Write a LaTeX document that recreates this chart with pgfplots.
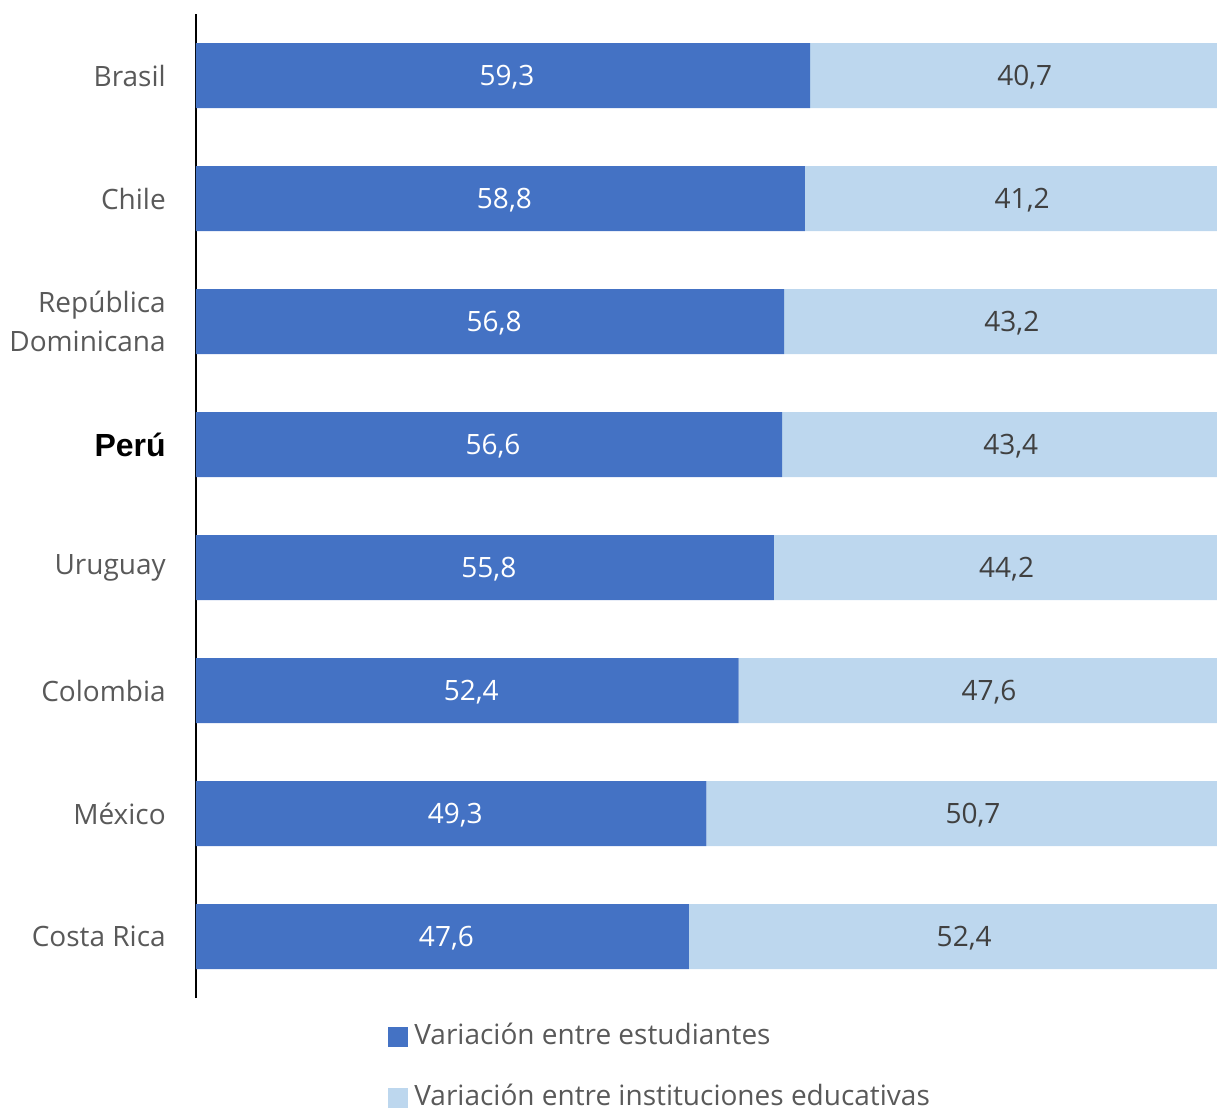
\documentclass[border=0pt]{standalone}
\usepackage{pgfplots}
\pgfplotsset{compat=1.18}
\usepackage{fontspec}
\setmainfont{Open Sans}
\newfontfamily\arialfont{Liberation Sans}
\definecolor{dark}{HTML}{4472C4}
\definecolor{light}{HTML}{BDD7EE}
\definecolor{lbl}{HTML}{595959}
\definecolor{val}{HTML}{404040}

\begin{document}
\begin{tikzpicture}
\clip (-147pt,-81.75pt) rectangle (765.75pt,748.5pt);
\begin{axis}[
  at={(0pt,0pt)}, anchor=south west,
  xbar stacked,
  scale only axis,
  width=776.6pt, height=738pt,
  xmin=0, xmax=100, ymin=-0.5, ymax=7.5,
  bar width=48.75pt,
  axis x line=none,
  axis y line*=left,
  y axis line style={line width=1.2pt, black},
  ytick={0,...,7},
  yticklabels={Costa Rica, México, Colombia, Uruguay, {\arialfont\bfseries\fontsize{24}{29}\selectfont\color{black}Perú}, {República\\Dominicana}, Chile, Brasil},
  ytick style={draw=none},
  major tick length=0pt,
  yticklabel style={font=\fontsize{21}{29.25}\selectfont, text=lbl, align=right, inner sep=0pt, anchor=east, xshift=-22.5pt},
  visualization depends on={rawx \as \rawx},
  nodes near coords={\pgfmathprintnumber[fixed,fixed zerofill,precision=1,use comma,assume math mode=true]{\rawx}},
  every node near coord/.append style={anchor=center, xshift=3pt, yshift=-1pt, font=\fontsize{21}{25}\selectfont},
  legend style={at={(axis description cs:0.181,-0.024)}, anchor=north west, draw=none, fill=none,
    font=\fontsize{21}{25}\selectfont, text=lbl, row sep=28pt,
    nodes={inner sep=0pt, text height=15pt, text depth=3pt}},
  legend cell align=left,
  legend image code/.code={\fill[#1] (0pt,-7.5pt) rectangle (15pt,7.5pt);},
]
\addplot[fill=dark, draw=none, every node near coord/.append style={text=white}] coordinates {
  (47.6,0) (49.3,1) (52.4,2) (55.8,3) (56.6,4) (56.8,5) (58.8,6) (59.3,7)
};
\addplot[fill=light, draw=none, every node near coord/.append style={text=val}] coordinates {
  (52.4,0) (50.7,1) (47.6,2) (44.2,3) (43.4,4) (43.2,5) (41.2,6) (40.7,7)
};
\legend{\hspace{5pt}Variación entre estudiantes, \hspace{5pt}Variación entre instituciones educativas}
\end{axis}
\end{tikzpicture}
\end{document}
